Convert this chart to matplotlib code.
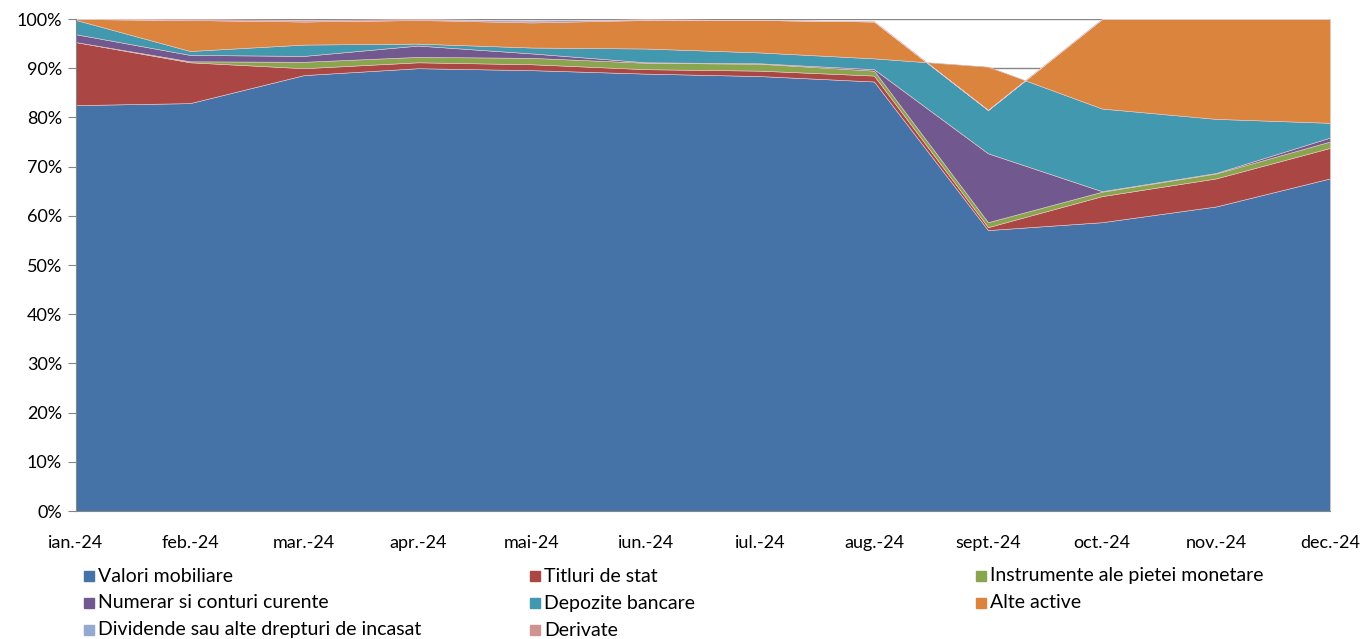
import numpy as np
import matplotlib.pyplot as plt
from matplotlib.patches import Rectangle

plt.rcParams['font.family'] = ['Lato', 'DejaVu Sans']

# luni
months = ["ian.-24", "feb.-24", "mar.-24", "apr.-24", "mai-24", "iun.-24",
          "iul.-24", "aug.-24", "sept.-24", "oct.-24", "nov.-24", "dec.-24"]

# structura activelor, % din total
valori_mobiliare = [82.5, 82.9, 88.6, 90.0, 89.6, 88.9, 88.4, 87.3, 57.1, 58.7, 61.9, 67.6]
titluri_de_stat  = [12.8, 8.3, 1.4, 1.2, 1.2, 0.9, 1.1, 1.2, 0.6, 5.3, 5.7, 6.2]
instrumente_pm   = [0.0, 0.2, 1.3, 1.1, 1.3, 1.3, 1.4, 1.0, 1.0, 0.9, 1.0, 1.3]
numerar          = [1.6, 1.3, 1.2, 2.3, 0.9, 0.1, 0.1, 0.3, 14.0, 0.1, 0.1, 0.8]
depozite         = [2.9, 0.8, 2.3, 0.4, 1.2, 2.8, 2.2, 2.2, 17.6, 16.8, 11.0, 3.0]
alte_active      = [0.2, 6.3, 4.7, 4.8, 5.1, 5.8, 6.6, 7.5, -8.8, 18.2, 20.3, 21.1]
dividende        = [0.0, 0.0, 0.0, 0.0, 0.4, 0.1, 0.0, 0.0, 0.0, 0.0, 0.0, 0.0]
derivate         = [0.0, 0.2, 0.3, 0.2, 0.0, 0.0, 0.0, 0.0, 0.0, 0.0, 0.0, 0.0]

labels = ["Valori mobiliare", "Titluri de stat", "Instrumente ale pietei monetare",
          "Numerar si conturi curente", "Depozite bancare", "Alte active",
          "Dividende sau alte drepturi de incasat", "Derivate"]
colors = ["#4572A7", "#AA4643", "#89A54E", "#71588F", "#4198AF", "#DB843D",
          "#93A9CF", "#D19392"]

series = [valori_mobiliare, titluri_de_stat, instrumente_pm, numerar,
          depozite, alte_active, dividende, derivate]

fig = plt.figure(figsize=(13.62, 6.39), dpi=100)
ax = fig.add_axes([76 / 1362, 1 - 511 / 639, (1330 - 76) / 1362, (511 - 19) / 639])

x = np.arange(len(months))
ax.stackplot(x, *series, colors=colors, linewidth=0.4, edgecolor="#e8c8c8", zorder=2)

ax.set_xlim(0, len(months) - 1)
ax.set_ylim(0, 100)
ax.set_yticks(np.arange(0, 101, 10))
ax.set_yticklabels([f"{v}%" for v in range(0, 101, 10)], fontsize=13)
ax.set_xticks(x)
ax.set_xticklabels(months, fontsize=13)
ax.tick_params(axis="x", length=0, pad=17)
ax.tick_params(axis="y", length=6, color="#868686", pad=4)
ax.yaxis.grid(True, color="#868686", linewidth=1, zorder=0)
ax.set_axisbelow(True)
for s in ["top", "right"]:
    ax.spines[s].set_visible(False)
for s in ["left", "bottom"]:
    ax.spines[s].set_color("#868686")

# legenda: 3 coloane, completata pe randuri
for i, (lab, col) in enumerate(zip(labels, colors)):
    cx = [84, 530, 976][i % 3]
    cy = [576, 603, 630][i // 3]
    fig.patches.append(Rectangle((cx / 1362, 1 - (cy + 5) / 639), 10 / 1362, 10 / 639,
                                 transform=fig.transFigure, color=col))
    fig.text((cx + 14) / 1362, 1 - cy / 639, lab, fontsize=14, va="center", ha="left")

fig.savefig("out.png", dpi=100)
